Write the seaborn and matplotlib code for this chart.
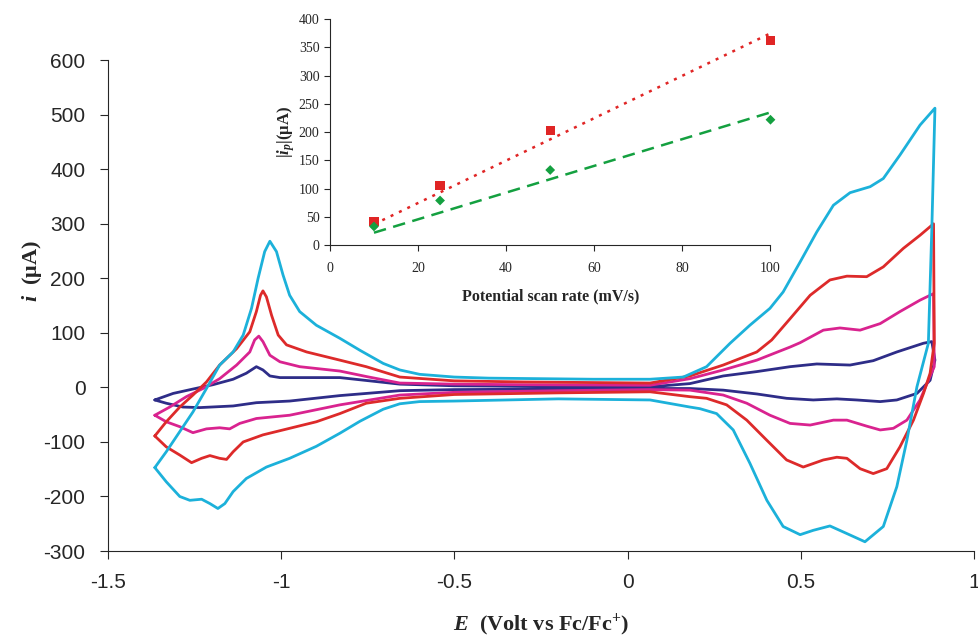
import numpy as np
import pandas as pd
import matplotlib
matplotlib.use('Agg')
import matplotlib.pyplot as plt
import seaborn as sns

# Cyclic voltammograms at four scan rates (E in V vs Fc/Fc+, i in uA).
# Each loop: upper branch left->right, then lower branch right->left.
e_10 = [-1.364, -1.311, -1.254, -1.196, -1.138, -1.100, -1.071, -1.052, -1.032, -1.003, -0.830, -0.657,
        -0.5, -0.3, 0.065, 0.180, 0.276, 0.373, 0.469, 0.546, 0.642, 0.709, 0.777, 0.854, 0.878,
        0.887, 0.873, 0.835, 0.777, 0.729, 0.661, 0.604, 0.536, 0.459, 0.373, 0.276, 0.180, 0.065,
        -0.2, -0.5, -0.657, -0.830, -0.975, -1.071, -1.138, -1.234, -1.283, -1.331, -1.364]
i_10 = [-23, -11, -3, 5, 15, 26, 38, 32, 21, 18, 18, 6,
        3, 2, 1, 7, 21, 29, 38, 43, 41, 49, 65, 81, 84,
        50, 13, -11, -23, -26, -23, -21, -23, -20, -12, -5, -2, -2,
        -3, -4, -6, -15, -25, -28, -34, -37, -36, -29, -23]

e_25 = [-1.364, -1.321, -1.273, -1.225, -1.177, -1.128, -1.090, -1.076, -1.064, -1.052, -1.032, -1.003,
        -0.946, -0.830, -0.754, -0.657, -0.5, -0.3, 0.065, 0.180, 0.276, 0.373, 0.469, 0.498, 0.565,
        0.613, 0.671, 0.729, 0.786, 0.844, 0.883,
        0.885, 0.868, 0.844, 0.806, 0.767, 0.729, 0.690, 0.633, 0.594, 0.527, 0.469, 0.411, 0.344,
        0.276, 0.180, 0.065, -0.2, -0.5, -0.657, -0.830, -0.975, -1.071, -1.119, -1.148, -1.177,
        -1.215, -1.254, -1.292, -1.331, -1.364]
i_25 = [-51, -36, -17, -2, 16, 41, 65, 87, 94, 84, 59, 47,
        38, 30, 20, 8, 6, 5, 4, 16, 32, 50, 74, 82, 105,
        109, 105, 117, 139, 160, 172,
        38, 13, -23, -60, -75, -78, -71, -60, -60, -69, -66, -51, -29,
        -14, -5, -4, -6, -9, -14, -32, -51, -57, -66, -76, -74,
        -76, -83, -72, -63, -51]

e_50 = [-1.364, -1.331, -1.292, -1.254, -1.215, -1.177, -1.128, -1.090, -1.071, -1.059, -1.052, -1.042,
        -1.027, -1.008, -0.984, -0.926, -0.830, -0.754, -0.657, -0.5, -0.3, 0.065, 0.180, 0.276, 0.373,
        0.416, 0.469, 0.527, 0.584, 0.633, 0.690, 0.738, 0.796, 0.844, 0.883,
        0.885, 0.873, 0.854, 0.825, 0.786, 0.748, 0.709, 0.671, 0.633, 0.604, 0.565, 0.507, 0.459,
        0.402, 0.344, 0.286, 0.228, 0.180, 0.065, -0.2, -0.5, -0.657, -0.754, -0.830, -0.898, -0.975,
        -1.052, -1.109, -1.138, -1.157, -1.177, -1.205, -1.229, -1.258, -1.292, -1.331, -1.364]
i_50 = [-89, -63, -36, -14, 10, 41, 71, 102, 139, 169, 177, 166,
        132, 96, 78, 65, 50, 38, 19, 12, 10, 8, 21, 41, 65,
        87, 126, 169, 197, 204, 203, 221, 255, 279, 300,
        81, 26, -11, -60, -109, -149, -158, -149, -130, -128, -133, -146, -133,
        -97, -60, -32, -20, -17, -8, -10, -13, -20, -29, -48, -63, -75,
        -87, -100, -118, -132, -130, -125, -130, -138, -124, -109, -89]

e_100 = [-1.364, -1.331, -1.292, -1.254, -1.215, -1.177, -1.138, -1.109, -1.085, -1.066, -1.047, -1.032,
         -1.013, -0.994, -0.975, -0.946, -0.898, -0.830, -0.772, -0.705, -0.657, -0.6, -0.5, -0.4, -0.1,
         0.065, 0.161, 0.228, 0.296, 0.353, 0.411, 0.449, 0.498, 0.546, 0.594, 0.642, 0.700, 0.738,
         0.786, 0.844, 0.887,
         0.878, 0.868, 0.835, 0.806, 0.777, 0.738, 0.685, 0.633, 0.584, 0.536, 0.498, 0.449, 0.402,
         0.353, 0.305, 0.257, 0.209, 0.180, 0.065, -0.2, -0.5, -0.6, -0.657, -0.705, -0.772, -0.830,
         -0.898, -0.975, -1.042, -1.100, -1.138, -1.162, -1.182, -1.205, -1.229, -1.263, -1.292,
         -1.331, -1.364]
i_100 = [-147, -118, -81, -45, -2, 41, 65, 96, 145, 200, 249, 268,
         249, 206, 169, 139, 114, 90, 68, 44, 32, 24, 19, 17, 15,
         15, 19, 38, 81, 114, 145, 175, 230, 285, 334, 357, 368, 383,
         426, 481, 512,
         291, 81, 1, -97, -182, -255, -283, -268, -254, -262, -270, -255, -207,
         -139, -78, -48, -39, -36, -23, -21, -25, -26, -30, -40, -62, -84,
         -108, -130, -146, -167, -191, -213, -222, -213, -205, -207, -200,
         -173, -147]

# Inset: peak current vs scan rate
scan_rate = [10, 25, 50, 100]
ip_red = [42, 106, 203, 362]
ip_green = [33, 79, 133, 222]
fit_x = [10, 100]
fit_red = [37, 375]
fit_green = [22, 235]

x_ticks = [-1.5, -1, -0.5, 0, 0.5, 1]
x_ticklabels = ['-1.5', '-1', '-0.5', '0', '0.5', '1']
y_ticks = list(range(-300, 601, 100))

colors = {'10': '#2e2d88', '25': '#d9238f', '50': '#dd2a2a', '100': '#1cb1da'}

sns.set_style('ticks')
plt.rcParams['font.family'] = ['Liberation Sans', 'DejaVu Sans']
plt.rcParams['axes.unicode_minus'] = False
plt.rcParams['mathtext.fontset'] = 'custom'
plt.rcParams['mathtext.it'] = 'Liberation Serif:italic:bold'
plt.rcParams['mathtext.rm'] = 'Liberation Serif:bold'
plt.rcParams['mathtext.bf'] = 'Liberation Serif:bold'

fig = plt.figure(figsize=(9.79, 6.4), dpi=100)
ax = fig.add_axes([0.110, 0.139, 0.885, 0.767])

curves = [('10', e_10, i_10), ('25', e_25, i_25), ('50', e_50, i_50), ('100', e_100, i_100)]
for name, e, i in curves:
    df = pd.DataFrame({'E': e, 'i': i})
    sns.lineplot(data=df, x='E', y='i', sort=False, estimator=None, ax=ax,
                 color=colors[name], linewidth=2.0, solid_joinstyle='round')

ax.set_xlim(-1.5, 1)
ax.set_ylim(-300, 600)
ax.set_xticks(x_ticks)
ax.set_xticklabels(x_ticklabels)
ax.set_yticks(y_ticks)
ax.set_yticklabels([str(v) for v in y_ticks])
ax.tick_params(labelsize=15, direction='out', length=6, width=0.8, pad=10)
for s in ['top', 'right']:
    ax.spines[s].set_visible(False)
for s in ['left', 'bottom']:
    ax.spines[s].set_linewidth(0.8)
ax.set_xlabel(r'$E$  (Volt vs Fc/Fc$^{+}$)', fontsize=16, fontweight='bold',
              family='Liberation Serif', labelpad=14)
ax.set_ylabel(r'$i$  (μA)', fontsize=16, fontweight='bold', family='Liberation Serif')
ax.yaxis.set_label_coords(-0.074, 0.57)

# inset
axi = fig.add_axes([0.337, 0.617, 0.450, 0.353])
axi.patch.set_alpha(0)
sns.lineplot(x=fit_x, y=fit_red, ax=axi, color='#e02525', linewidth=1.8, linestyle=(0, (1.2, 2.5)))
sns.lineplot(x=fit_x, y=fit_green, ax=axi, color='#14a040', linewidth=1.8, linestyle=(0, (5, 3)))
sns.scatterplot(x=scan_rate, y=ip_red, ax=axi, marker='s', color='#e02525', s=45,
                edgecolor='none', clip_on=False, zorder=5)
sns.scatterplot(x=scan_rate, y=ip_green, ax=axi, marker='D', color='#14a040', s=25,
                edgecolor='none', clip_on=False, zorder=5)
axi.set_xlim(0, 100)
axi.set_ylim(0, 400)
axi.set_xticks(range(0, 101, 20))
axi.set_yticks(range(0, 401, 50))
axi.tick_params(labelsize=10, direction='out', length=4, width=0.8)
for lab in axi.get_xticklabels() + axi.get_yticklabels():
    lab.set_family('Liberation Serif')
axi.xaxis.set_tick_params(pad=8)
for s in ['top', 'right']:
    axi.spines[s].set_visible(False)
axi.set_xlabel('Potential scan rate (mV/s)', fontsize=11.5, fontweight='bold',
               family='Liberation Serif', labelpad=10)
axi.set_ylabel(r'$|i_p|$(μA)', fontsize=12, fontweight='bold', family='Liberation Serif')
axi.yaxis.set_label_coords(-0.075, 0.5)

fig.savefig('out.png', dpi=100)
